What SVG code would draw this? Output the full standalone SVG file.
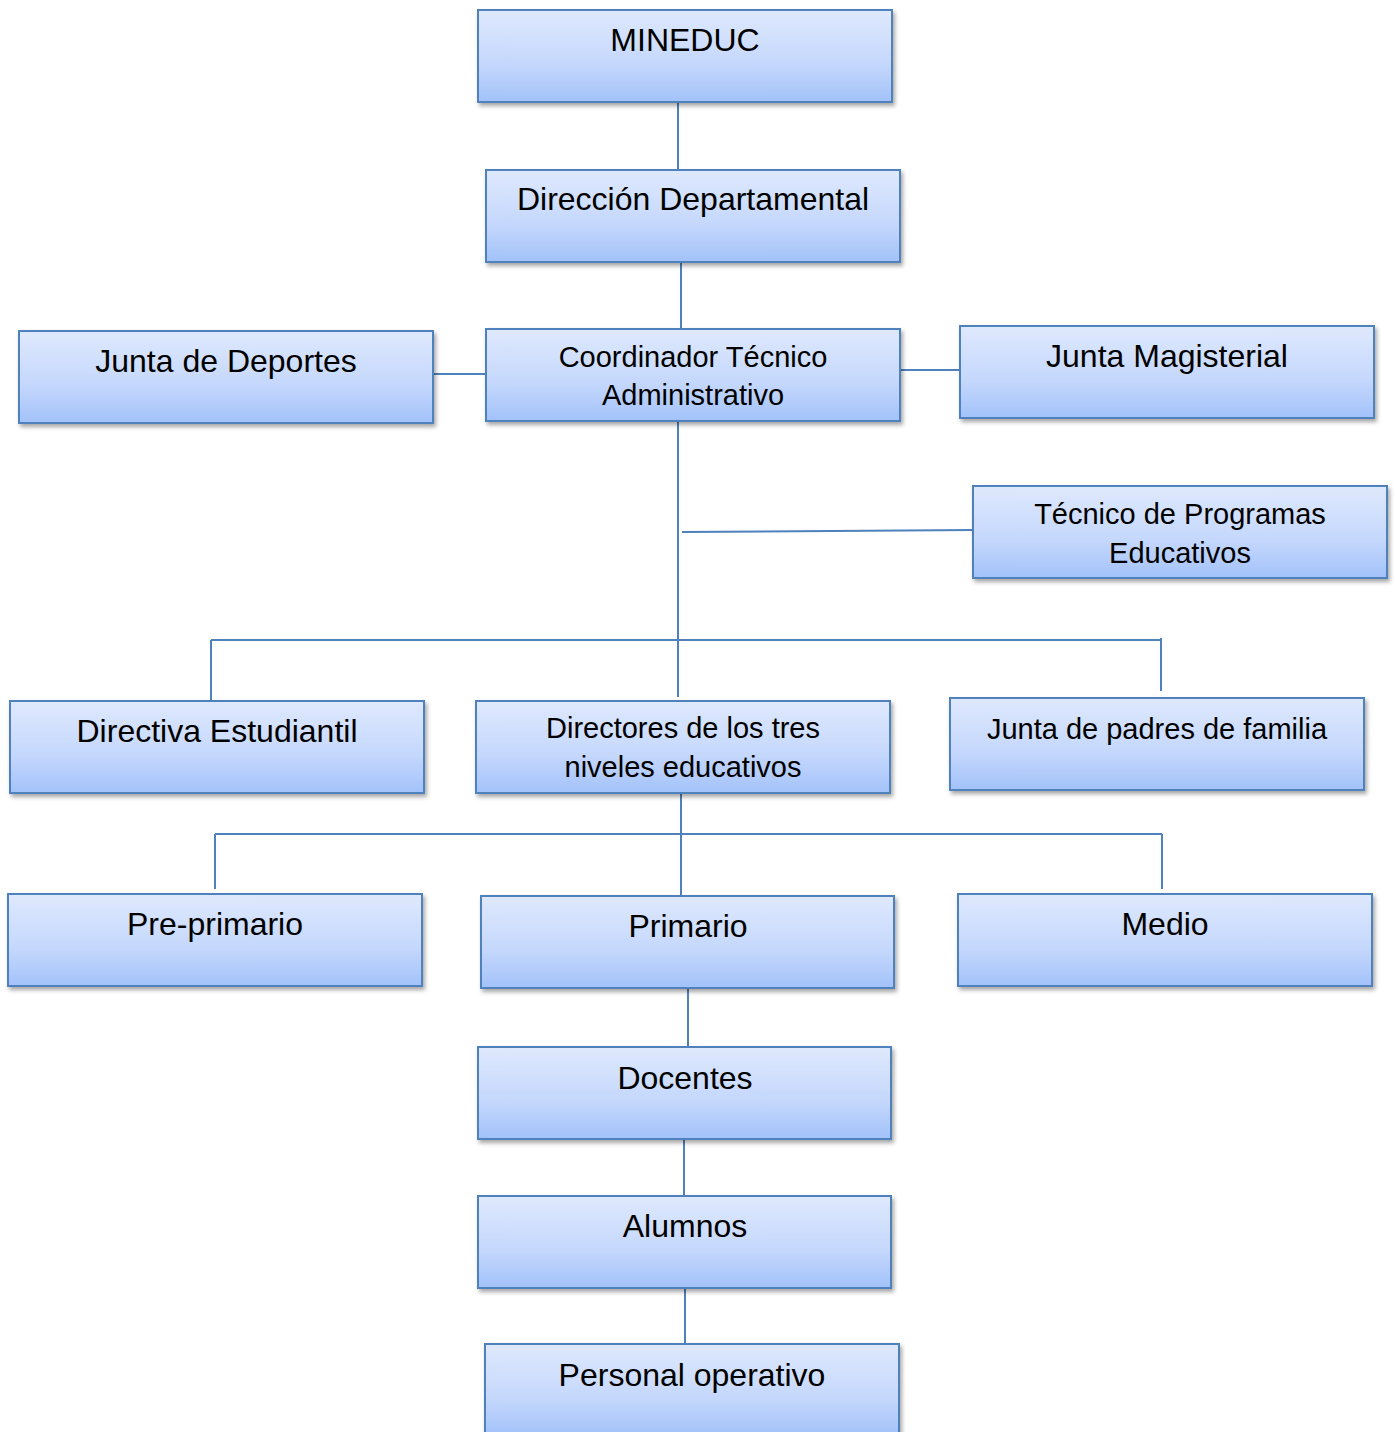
<svg xmlns="http://www.w3.org/2000/svg" width="1396" height="1432" viewBox="0 0 1396 1432">
<defs>
<linearGradient id="g" x1="0" y1="0" x2="0" y2="1">
<stop offset="0" stop-color="#dfe9fd"/>
<stop offset="0.6" stop-color="#c4d7fc"/>
<stop offset="1" stop-color="#a2c2fa"/>
</linearGradient>
<filter id="sh" x="-5%" y="-10%" width="115%" height="130%">
<feDropShadow dx="2" dy="3" stdDeviation="2" flood-color="#000" flood-opacity="0.35"/>
</filter>
</defs>
<style>
.box{fill:url(#g);stroke:#4f81bd;stroke-width:2;filter:url(#sh)}
.t{font-family:"Liberation Sans",Arial,sans-serif;font-size:32px;fill:#000;text-anchor:middle}
.s{font-size:29px}
.c line{stroke:#4f81bd;stroke-width:2}
</style>
<rect width="1396" height="1432" fill="#fff"/>
<g class="c" id="connectors">
<line x1="678" y1="102" x2="678" y2="170"/>
<line x1="681" y1="262" x2="681" y2="329"/>
<line x1="433" y1="374" x2="486" y2="374"/>
<line x1="900" y1="370" x2="960" y2="370"/>
<line x1="678" y1="421" x2="678" y2="697"/>
<line x1="682" y1="532" x2="973" y2="530"/>
<line x1="211" y1="640" x2="1161" y2="640"/>
<line x1="211" y1="640" x2="211" y2="701"/>
<line x1="1161" y1="638" x2="1161" y2="691"/>
<line x1="681" y1="793" x2="681" y2="896"/>
<line x1="215" y1="834" x2="1162" y2="834"/>
<line x1="215" y1="834" x2="215" y2="889"/>
<line x1="1162" y1="834" x2="1162" y2="889"/>
<line x1="688" y1="988" x2="688" y2="1047"/>
<line x1="684" y1="1139" x2="684" y2="1196"/>
<line x1="685" y1="1288" x2="685" y2="1344"/>
</g>
<g id="mineduc"><rect class="box" x="478" y="10" width="414" height="92"/><text class="t" x="685" y="51">MINEDUC</text></g>
<g id="direccion"><rect class="box" x="486" y="170" width="414" height="92"/><text class="t" x="693" y="210">Dirección Departamental</text></g>
<g id="deportes"><rect class="box" x="19" y="331" width="414" height="92"/><text class="t" x="226" y="372">Junta de Deportes</text></g>
<g id="coordinador"><rect class="box" x="486" y="329" width="414" height="92"/><text class="t s" x="693" y="367">Coordinador Técnico</text><text class="t s" x="693" y="405">Administrativo</text></g>
<g id="magisterial"><rect class="box" x="960" y="326" width="414" height="92"/><text class="t" x="1167" y="367">Junta Magisterial</text></g>
<g id="tecnico"><rect class="box" x="973" y="486" width="414" height="92"/><text class="t s" x="1180" y="524">Técnico de Programas</text><text class="t s" x="1180" y="563">Educativos</text></g>
<g id="directiva"><rect class="box" x="10" y="701" width="414" height="92"/><text class="t" x="217" y="742">Directiva Estudiantil</text></g>
<g id="directores"><rect class="box" x="476" y="701" width="414" height="92"/><text class="t s" x="683" y="738">Directores de los tres</text><text class="t s" x="683" y="777">niveles educativos</text></g>
<g id="padres"><rect class="box" x="950" y="698" width="414" height="92"/><text class="t s" x="1157" y="739">Junta de padres de familia</text></g>
<g id="preprimario"><rect class="box" x="8" y="894" width="414" height="92"/><text class="t" x="215" y="935">Pre-primario</text></g>
<g id="primario"><rect class="box" x="481" y="896" width="413" height="92"/><text class="t" x="688" y="937">Primario</text></g>
<g id="medio"><rect class="box" x="958" y="894" width="414" height="92"/><text class="t" x="1165" y="935">Medio</text></g>
<g id="docentes"><rect class="box" x="478" y="1047" width="413" height="92"/><text class="t" x="685" y="1089">Docentes</text></g>
<g id="alumnos"><rect class="box" x="478" y="1196" width="413" height="92"/><text class="t" x="685" y="1237">Alumnos</text></g>
<g id="personal"><rect class="box" x="485" y="1344" width="414" height="92"/><text class="t" x="692" y="1386">Personal operativo</text></g>
</svg>
